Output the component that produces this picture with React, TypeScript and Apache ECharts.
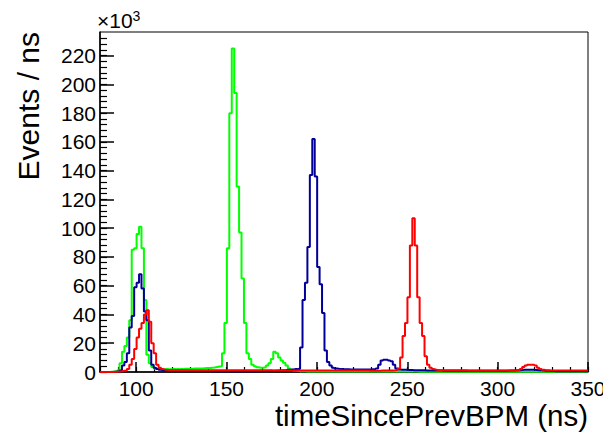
import React, { useEffect, useRef } from "react";
import * as echarts from "echarts";

// Histogram binning: 200 bins from 80 ns to 350 ns
const X_MIN = 80;
const X_MAX = 350;
const BIN_W = 1.35;

// Tick values
const xMajorTicks = [100, 150, 200, 250, 300, 350];
const yMajorTicks = [0, 20, 40, 60, 80, 100, 120, 140, 160, 180, 200, 220];

// Bin contents (x10^3 events / ns)
const greenCounts = [
  0, 0, 0, 0, 0.2, 0.3, 0.5, 1, 6, 14,
  18, 24, 36, 85, 86, 96, 101, 86, 50, 12,
  6, 3.5, 2.5, 2, 2, 1.8, 2, 2, 1.9, 2,
  2, 2.1, 2, 2, 2.2, 2.2, 2.3, 2.3, 2.4, 2.4,
  2.5, 2.5, 2.6, 2.7, 2.8, 3, 3.2, 3.5, 3.8, 4,
  13, 34, 86, 180, 225, 194, 129, 97, 65, 34,
  13, 9, 5, 4, 3.3, 3, 3, 3.3, 4.5, 6,
  9, 14, 13, 10, 8, 6.5, 4.5, 2.5, 1.5, 1,
  0.8, 0.6, 0.5, 0.5, 0.4, 0.4, 0.4, 0.3, 0.3, 0.3,
  0.3, 0.3, 0.3, 0.3, 0.3, 0.3, 0.3, 0.3, 0.3, 0.3,
  0.3, 0.3, 0.3, 0.3, 0.3, 0.3, 0.3, 0.3, 0.3, 0.3,
  0.3, 0.3, 0.3, 0.3, 0.3, 0.3, 0.3, 0.3, 0.3, 0.3,
  0.3, 0.3, 0.3, 0.3, 0.3, 0.3, 0.3, 0.3, 0.3, 0.3,
  0.2, 0.2, 0.2, 0.2, 0.2, 0.2, 0.2, 0.2, 0.2, 0.2,
  0.2, 0.2, 0.2, 0.2, 0.2, 0.2, 0.2, 0.2, 0.2, 0.2,
  0.2, 0.2, 0.2, 0.2, 0.2, 0.2, 0.2, 0.2, 0.2, 0.2,
  0.2, 0.2, 0.2, 0.2, 0.2, 0.2, 0.2, 0.2, 0.2, 0.2,
  0.2, 0.2, 0.2, 0.2, 0.2, 0.2, 0.2, 0.2, 0.2, 0.2,
  0.2, 0.2, 0.2, 0.2, 0.2, 0.2, 0.2, 0.2, 0.2, 0.2,
  0.2, 0.2, 0.2, 0.2, 0.2, 0.2, 0.2, 0.2, 0.2, 0.2,
];

const blueCounts = [
  0, 0, 0, 0, 0, 0.2, 0.3, 0.5, 1, 4.5,
  7, 13, 31, 39, 59, 62, 68, 58, 42, 36,
  15, 5, 3, 2, 1.5, 1.2, 1, 1, 0.9, 0.9,
  0.8, 0.8, 0.8, 0.8, 0.8, 0.8, 0.7, 0.7, 0.7, 0.7,
  0.7, 0.7, 0.7, 0.7, 0.7, 0.6, 0.6, 0.6, 0.6, 0.6,
  0.6, 0.6, 0.6, 0.6, 0.6, 0.6, 0.6, 0.6, 0.6, 0.6,
  0.6, 0.6, 0.6, 0.6, 0.6, 0.7, 0.7, 0.7, 0.7, 0.8,
  0.8, 0.9, 1, 1, 1.2, 1.3, 1.5, 1.6, 1.8, 2,
  2, 2.2, 17, 50, 62, 87, 137, 162, 136, 73,
  61, 41, 15, 7, 4.5, 3, 2.5, 2.2, 2, 2,
  1.9, 1.9, 1.8, 1.8, 1.8, 1.7, 1.7, 1.8, 1.8, 1.8,
  1.8, 1.9, 2, 2.5, 5, 8, 8.5, 8.5, 8, 7.5,
  5, 2.5, 1.8, 1.6, 1.5, 1.5, 1.4, 1.4, 1.3, 1.3,
  1.2, 1.2, 1.2, 1.1, 1.1, 1.1, 1.0, 1.0, 1.0, 1.0,
  0.9, 0.9, 0.9, 0.9, 0.9, 0.8, 0.8, 0.8, 0.8, 0.8,
  0.8, 0.8, 0.8, 0.8, 0.8, 0.8, 0.8, 0.8, 0.8, 0.8,
  0.8, 0.8, 0.8, 0.8, 0.8, 0.9, 0.9, 1.0, 1.0, 1.1,
  1.2, 1.3, 1.4, 1.5, 1.5, 1.5, 1.5, 1.5, 1.4, 1.3,
  1.2, 1.0, 0.9, 0.8, 0.7, 0.7, 0.6, 0.6, 0.6, 0.6,
  0.5, 0.5, 0.5, 0.5, 0.5, 0.5, 0.5, 0.5, 0.5, 0.5,
];

const redCounts = [
  0, 0, 0, 0, 0, 0, 0.2, 0.3, 0.5, 0.8,
  1, 2, 5, 9, 16, 24, 30, 34, 40, 43,
  35, 20, 13, 5, 3, 2, 1.6, 1.4, 1.3, 1.3,
  1.3, 1.3, 1.3, 1.3, 1.3, 1.3, 1.3, 1.3, 1.3, 1.3,
  1.3, 1.3, 1.3, 1.3, 1.3, 1.3, 1.3, 1.3, 1.3, 1.3,
  1.2, 1.2, 1.2, 1.2, 1.2, 1.2, 1.2, 1.2, 1.2, 1.2,
  1.2, 1.2, 1.2, 1.2, 1.2, 1.2, 1.2, 1.2, 1.2, 1.2,
  1.1, 1.1, 1.1, 1.1, 1.1, 1.1, 1.1, 1.1, 1.1, 1.1,
  1.1, 1.1, 1.1, 1.1, 1.1, 1.1, 1.1, 1.1, 1.1, 1.1,
  1.0, 1.0, 1.0, 1.0, 1.0, 1.0, 1.0, 1.0, 1.0, 1.0,
  1.0, 1.0, 1.0, 1.0, 1.0, 1.0, 1.0, 1.0, 1.0, 1.0,
  0.9, 0.9, 0.9, 0.9, 0.9, 1.0, 1.0, 1.0, 1.1, 1.1,
  1.2, 1.5, 2.5, 10, 25, 34, 52, 88, 107, 88,
  52, 34, 25, 11, 5, 3, 2, 1.6, 1.4, 1.3,
  1.2, 1.2, 1.2, 1.2, 1.2, 1.2, 1.2, 1.2, 1.2, 1.2,
  1.1, 1.1, 1.1, 1.1, 1.1, 1.1, 1.1, 1.1, 1.1, 1.1,
  1.0, 1.0, 1.0, 1.0, 1.0, 1.0, 1.0, 1.0, 1.0, 1.0,
  1.1, 1.2, 2, 3.5, 4.5, 5, 5, 5, 4.5, 3,
  2, 1.5, 1.3, 1.2, 1.1, 1.0, 1.0, 1.0, 1.0, 1.0,
  1.0, 1.0, 1.0, 1.0, 1.0, 1.0, 1.0, 1.0, 1.0, 1.0,
];

const FONT = '"Liberation Sans", Arial, Helvetica, sans-serif';

function toStepData(counts: number[]) {
  const pts = counts.map((v, i) => [X_MIN + BIN_W * i, v]);
  pts.push([X_MAX, counts[counts.length - 1]]);
  return pts;
}

export default function App() {
  const ref = useRef<HTMLDivElement>(null);
  useEffect(() => {
    if (!ref.current) return;
    const chart = echarts.init(ref.current, undefined, { renderer: "svg" });
    const yMinor: number[] = [];
    for (let v = 0; v <= 232; v += 4) yMinor.push(v);
    const xMinor: number[] = [];
    for (let v = 80; v <= 350; v += 10) xMinor.push(v);

    const mkSeries = (name: string, counts: number[], color: string) => ({
      name,
      type: "line",
      step: "end",
      symbol: "none",
      showSymbol: false,
      xAxisIndex: 0,
      yAxisIndex: 0,
      clip: true,
      lineStyle: { color, width: 2 },
      data: toStepData(counts),
    });

    chart.setOption({
      animation: false,
      backgroundColor: "#fff",
      grid: {
        left: 100,
        top: 32,
        width: 488,
        height: 340,
        show: true,
        borderColor: "#000",
        borderWidth: 1,
        backgroundColor: "transparent",
        containLabel: false,
        outerBoundsMode: "none",
      },
      xAxis: [
        {
          type: "value",
          min: X_MIN,
          max: X_MAX,
          position: "bottom",
          axisLine: { show: true, lineStyle: { color: "#000", width: 1.5 } },
          axisTick: {
            show: true,
            inside: true,
            length: 10,
            customValues: xMajorTicks,
            lineStyle: { color: "#000", width: 1.5 },
          },
          axisLabel: {
            customValues: xMajorTicks,
            margin: 6,
            fontSize: 21,
            color: "#000",
            fontFamily: FONT,
          },
          splitLine: { show: false },
        },
        {
          type: "value",
          min: X_MIN,
          max: X_MAX,
          position: "bottom",
          axisLine: { show: false },
          axisTick: {
            show: true,
            inside: true,
            length: 5,
            customValues: xMinor,
            lineStyle: { color: "#000", width: 1.2 },
          },
          axisLabel: { show: false },
          splitLine: { show: false },
        },
      ],
      yAxis: [
        {
          type: "value",
          min: 0,
          max: 236.5,
          position: "left",
          axisLine: { show: true, lineStyle: { color: "#000", width: 1.5 } },
          axisTick: {
            show: true,
            inside: true,
            length: 14,
            customValues: yMajorTicks,
            lineStyle: { color: "#000", width: 1.5 },
          },
          axisLabel: {
            customValues: yMajorTicks,
            margin: 4,
            fontSize: 21,
            color: "#000",
            fontFamily: FONT,
          },
          splitLine: { show: false },
        },
        {
          type: "value",
          min: 0,
          max: 236.5,
          position: "left",
          axisLine: { show: false },
          axisTick: {
            show: true,
            inside: true,
            length: 7,
            customValues: yMinor,
            lineStyle: { color: "#000", width: 1.2 },
          },
          axisLabel: { show: false },
          splitLine: { show: false },
        },
      ],
      graphic: [
        {
          type: "text",
          x: 28,
          y: 32,
          rotation: Math.PI / 2,
          style: {
            text: "Events / ns",
            fontSize: 30,
            fontFamily: FONT,
            fill: "#000",
            align: "right",
            verticalAlign: "middle",
          },
        },
        {
          type: "text",
          x: 588,
          y: 415,
          style: {
            text: "timeSincePrevBPM (ns)",
            fontSize: 29.5,
            fontFamily: FONT,
            fill: "#000",
            align: "right",
            verticalAlign: "middle",
          },
        },
        {
          type: "text",
          x: 97,
          y: 31,
          style: {
            text: "{a|×10}{b|3}",
            fontFamily: FONT,
            fill: "#000",
            align: "left",
            verticalAlign: "bottom",
            rich: {
              a: { fontSize: 21, fontFamily: FONT, fill: "#000", verticalAlign: "bottom" },
              b: { fontSize: 14, fontFamily: FONT, fill: "#000", verticalAlign: "top", padding: [0, 0, 8, 0] },
            },
          },
        },
      ],
      series: [
        mkSeries("green", greenCounts, "#00ff00"),
        mkSeries("blue", blueCounts, "#000099"),
        mkSeries("red", redCounts, "#ff0000"),
      ],
    });
    return () => chart.dispose();
  }, []);
  return (
    <div
      ref={ref}
      style={{ position: "fixed", left: 0, top: 0, width: 603, height: 437, background: "#fff" }}
    />
  );
}
